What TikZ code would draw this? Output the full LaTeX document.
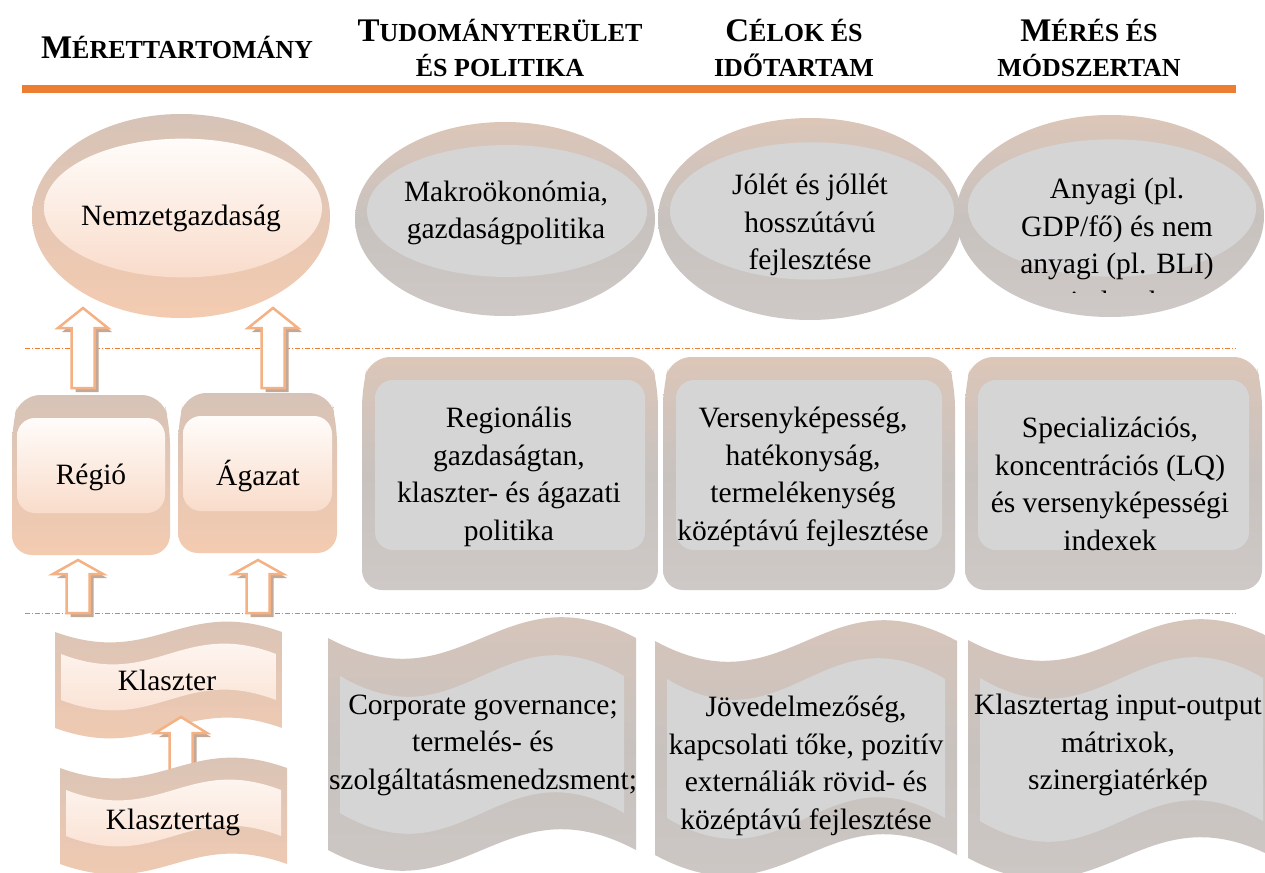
\documentclass[tikz,border=0pt]{standalone}
\usepackage{fontspec}
\setmainfont{Liberation Serif}

\definecolor{hdrorange}{HTML}{ED7D31}
\definecolor{arrorange}{HTML}{F4B183}
\definecolor{arrshadow}{HTML}{C4A897}
\definecolor{peachrim}{HTML}{D6C3B7}
\definecolor{peachbot}{HTML}{F4CBB1}
\definecolor{peachtop}{HTML}{FFFCFA}
\definecolor{peachlow}{HTML}{F9DCCB}
\definecolor{grayrim}{HTML}{DCC6B8}
\definecolor{grayside}{HTML}{C8C2BF}
\definecolor{graybot}{HTML}{CEC9C6}
\definecolor{grayface}{HTML}{D5D5D5}

\newcommand{\hcap}[1]{{\fontsize{33}{35}\selectfont #1}}

\begin{document}
\begin{tikzpicture}[x=1pt,y=-1pt]
\tikzset{rimpeach/.style={top color=peachrim, bottom color=peachbot},
  facepeach/.style={top color=peachtop, bottom color=peachlow},
  rimgray/.style={top color=grayrim, bottom color=graybot, middle color=grayside},
  facegray/.style={fill=grayface},
  txt/.style={font=\fontsize{29.5}{37.5}\selectfont, align=center, inner sep=0pt},
  hdr/.style={font=\bfseries\fontsize{26}{35}\selectfont, align=center, inner sep=0pt},
  sepline/.style={hdrorange, line width=1pt, dash pattern=on 5pt off 2pt on 1pt off 2pt},
  pics/disc/.style n args={4}{code={
    \path[#3] (0,0) ellipse [x radius=#1, y radius=#2];
    \path[#4] (2,-8) ellipse [x radius=#1-10, y radius=0.68*#2];}},
  pics/keycap/.style n args={7}{code={
    \path[#6, rounded corners=20pt] (0,{#2/2}) -- ({-#1/2},{#2/2}) -- ({-#1/2},{-#2/2+30})
      -- ({-#1/2+8},{-#2/2}) -- ({#1/2-8},{-#2/2}) -- ({#1/2},{-#2/2+30}) -- ({#1/2},{#2/2}) -- cycle;
    \path[#7, rounded corners=18pt] ({-#1/2+#3},{-#2/2+#4}) rectangle ({#1/2-#3},{#2/2-#5});}},
  pics/wave/.style n args={8}{code={
    \path[#7] ({-#1/2},{-#2/2}) .. controls ({-0.12*#1/2},{-#2/2+#3}) and ({0.12*#1/2},{-#2/2-#3}) .. ({#1/2},{-#2/2})
      -- ({#1/2},{#2/2}) .. controls ({0.12*#1/2},{#2/2-#3}) and ({-0.12*#1/2},{#2/2+#3}) .. ({-#1/2},{#2/2}) -- cycle;
    \path[#8] ({-#1/2+#4},{-#2/2+#5}) .. controls ({-0.12*#1/2},{-#2/2+#5+#3}) and ({0.12*#1/2},{-#2/2+#5-#3}) .. ({#1/2-#4},{-#2/2+#5})
      -- ({#1/2-#4},{#2/2-#6}) .. controls ({0.12*#1/2},{#2/2-#6-#3}) and ({-0.12*#1/2},{#2/2-#6+#3}) .. ({-#1/2+#4},{#2/2-#6}) -- cycle;}},
  pics/uparrow/.style n args={3}{code={
    \fill[arrshadow, shift={(4,4)}] (0,0) -- (#3,#2) -- (11.5,#2) -- (11.5,#1) -- (-11.5,#1) -- (-11.5,#2) -- (-#3,#2) -- cycle;
    \draw[arrorange, line width=2.5pt, fill=white] (0,0) -- (#3,#2) -- (11.5,#2) -- (11.5,#1) -- (-11.5,#1) -- (-11.5,#2) -- (-#3,#2) -- cycle;}}}
\clip (0,0) rectangle (1265,872);
\fill[white] (0,0) rectangle (1265,872);

% headers
\draw[hdrorange, line width=8pt] (22,89) -- (1236,89);
\node[hdr] (h1) at (177,47) {\hcap{M}ÉRETTARTOMÁNY};
\node[hdr] (h2) at (500,48) {\hcap{T}UDOMÁNYTERÜLET\\ÉS POLITIKA};
\node[hdr] (h3) at (794,48) {\hcap{C}ÉLOK ÉS\\IDŐTARTAM};
\node[hdr] (h4) at (1089,48) {\hcap{M}ÉRÉS ÉS\\MÓDSZERTAN};

\draw[sepline] (25,348) -- (1236,348);
\draw[sepline] (25,613) -- (1236,613);

% left column
\pic at (181,216) {disc={149}{102}{rimpeach}{facepeach}};
\pic at (83,308) {uparrow={80}{20}{25}};
\pic at (273,308) {uparrow={80}{20}{25}};
\pic at (91,475) {keycap={158}{160}{5}{23}{42}{rimpeach}{facepeach}};
\pic at (257.5,473) {keycap={159}{160}{5}{23}{42}{rimpeach}{facepeach}};
\pic at (78,560) {uparrow={53}{14}{25}};
\pic at (258,560) {uparrow={53}{14}{25}};
\pic at (168.5,680) {wave={227}{96}{36}{6}{22}{28}{rimpeach}{facepeach}};
\pic at (181,717) {uparrow={53}{16}{26}};
\pic at (173.5,816) {wave={227}{96}{36}{6}{22}{28}{rimpeach}{facepeach}};

% top row
\pic at (505,219) {disc={150}{97}{rimgray}{facegray}};
\pic at (810,219) {disc={152}{101}{rimgray}{facegray}};
\pic at (1110,216) {disc={154}{101}{rimgray}{facegray}};

% middle row
\pic at (510,473.5) {keycap={296}{233}{13}{23}{40}{rimgray}{facegray}};
\pic at (809,473.5) {keycap={292}{233}{13}{23}{40}{rimgray}{facegray}};
\pic at (1113.5,473.5) {keycap={297}{233}{13}{23}{40}{rimgray}{facegray}};

% bottom row
\pic at (482,744) {wave={308}{212}{72}{12}{38}{37}{rimgray}{facegray}};
\pic at (806,748) {wave={302}{214}{72}{12}{38}{37}{rimgray}{facegray}};
\pic at (1121.5,749) {wave={307}{218}{72}{12}{38}{37}{rimgray}{facegray}};

% texts
\node[txt] (nemz) at (181,218) {Nemzetgazdaság};
\node[txt] (regio) at (91,477) {Régió};
\node[txt] (agazat) at (258,476) {Ágazat};
\node[txt] (klaszter) at (167,680) {Klaszter};
\node[txt] (tag) at (173,822) {Klasztertag};
\node[txt] (makro) at (506,213) {Makroökonómia,\\gazdaságpolitika};
\node[txt] (jolet) at (810,225) {Jólét és jóllét\\hosszútávú\\fejlesztése};
\begin{scope}
\clip (950,100) rectangle (1265,292);
\node[txt] (anyagi) at (1117,245) {Anyagi (pl.\\GDP/fő) és nem\\anyagi (pl. BLI)\\indexek};
\end{scope}
\node[txt] (regional) at (509,477) {Regionális\\gazdaságtan,\\klaszter- és ágazati\\politika};
\node[txt] (verseny) at (803,477) {Versenyképesség,\\hatékonyság,\\termelékenység\\középtávú fejlesztése};
\node[txt] (special) at (1110,484) {Specializációs,\\koncentrációs (LQ)\\és versenyképességi\\indexek};
\node[txt] (corporate) at (483,745) {Corporate governance;\\termelés- és\\szolgáltatásmenedzsment;};
\node[txt] (jovedelem) at (806,766) {Jövedelmezőség,\\kapcsolati tőke, pozitív\\externáliák rövid- és\\középtávú fejlesztése};
\node[txt] (matrix) at (1118,745) {Klasztertag input-output\\mátrixok,\\szinergiatérkép};
\end{tikzpicture}
\end{document}
